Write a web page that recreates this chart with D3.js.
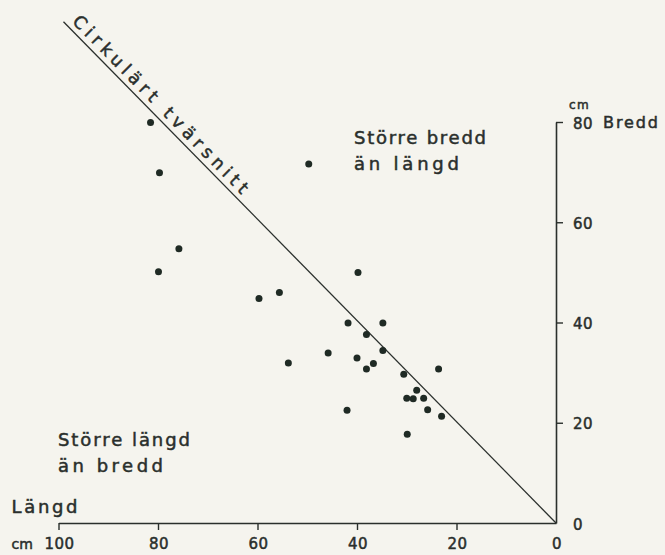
<!DOCTYPE html>
<html><head><meta charset="utf-8">
<script src="https://cdn.jsdelivr.net/npm/d3@7"></script>
<style>
html,body{margin:0;padding:0;background:#f5f4ee;}
svg{display:block;}
text{font-family:"DejaVu Sans",sans-serif;fill:#2a2f2c;stroke:#2a2f2c;stroke-width:0.5px;}
</style></head>
<body>
<script>
// Data: längd (x, cm) and bredd (y, cm)
const langd = [81.5, 79.7, 49.7, 75.8, 79.9, 39.8, 55.6, 59.7, 41.8, 34.8, 38.1, 34.8, 45.8, 53.8,
               40.0, 36.7, 38.1, 30.6, 23.6, 28.0, 30.0, 28.7, 26.6, 25.8, 23.0, 42.0, 29.9];
const bredd = [79.9, 69.9, 71.6, 54.7, 50.1, 50.0, 46.0, 44.8, 39.9, 39.9, 37.6, 34.4, 33.9, 31.9,
               32.9, 31.8, 30.7, 29.7, 30.7, 26.5, 24.9, 24.8, 24.9, 22.6, 21.3, 22.5, 17.7];
const xTicks = [100, 80, 60, 40, 20, 0];
const yTicks = [0, 20, 40, 60, 80];
const circleLine = [[0, 0], [99, 100]]; // längd = bredd
const labelDiagonal = "Cirkulärt tvärsnitt";
const labelUpper = ["Större bredd", "än längd"];
const labelLower = ["Större längd", "än bredd"];

const W = 665, H = 555, ink = "#2a2f2c";
const svg = d3.select("body").append("svg").attr("width", W).attr("height", H);

const x = d3.scaleLinear().domain([100, 0]).range([58.5, 556]);
const y = d3.scaleLinear().domain([0, 80]).range([523, 122]);

// X axis
const gx = svg.append("g").attr("transform", `translate(0,${y(0)})`)
  .call(d3.axisBottom(x).tickValues(xTicks).tickSize(7).tickSizeOuter(0).tickPadding(8));
gx.select(".domain").attr("stroke", ink).attr("stroke-width", 1.6);
gx.selectAll(".tick line").attr("stroke", ink).attr("stroke-width", 1.4)
  .attr("y2", d => d === 0 ? 0 : 7);
gx.selectAll(".tick text").attr("font-size", 15).attr("fill", ink)
  .attr("font-family", "DejaVu Sans").attr("letter-spacing", 0.5).attr("dx", 0.5);

// Y axis
const gy = svg.append("g").attr("transform", `translate(${x(0)},0)`)
  .call(d3.axisRight(y).tickValues(yTicks).tickSize(7).tickSizeOuter(0).tickPadding(10));
gy.select(".domain").attr("stroke", ink).attr("stroke-width", 1.6);
gy.selectAll(".tick line").attr("stroke", ink).attr("stroke-width", 1.4)
  .attr("x2", d => d === 0 ? 0 : 7);
gy.selectAll(".tick text").attr("font-size", 15).attr("fill", ink)
  .attr("font-family", "DejaVu Sans").attr("letter-spacing", 0.5).attr("dy", "0.4em");

// Axis titles
svg.append("text").attr("x", 11.5).attr("y", 549).attr("font-size", 14).text("cm");
svg.append("text").attr("x", 11.5).attr("y", 513).attr("font-size", 18).attr("textLength", 66).attr("lengthAdjust", "spacing").text("Längd");
svg.append("text").attr("x", 569).attr("y", 109).attr("font-size", 12).attr("letter-spacing", 1.5).text("cm");
svg.append("text").attr("x", 603).attr("y", 128).attr("font-size", 16).attr("textLength", 55).attr("lengthAdjust", "spacing").text("Bredd");

// Diagonal line
const line = d3.line().x(d => x(d[0])).y(d => y(d[1]));
svg.append("path").attr("d", line(circleLine)).attr("fill", "none")
  .attr("stroke", ink).attr("stroke-width", 1.3);

// Diagonal label
const p0 = [x(circleLine[1][0]), y(circleLine[1][1])];
const p1 = [x(circleLine[0][0]), y(circleLine[0][1])];
const ang = Math.atan2(p1[1] - p0[1], p1[0] - p0[0]);
const dir = [Math.cos(ang), Math.sin(ang)], nrm = [Math.sin(ang), -Math.cos(ang)];
const o = [p0[0] + 6 * dir[0] + 5.5 * nrm[0], p0[1] + 6 * dir[1] + 5.5 * nrm[1]];
svg.append("text")
  .attr("transform", `translate(${o[0]},${o[1]}) rotate(${ang * 180 / Math.PI})`)
  .attr("font-size", 17.5).attr("textLength", 242).attr("lengthAdjust", "spacing")
  .text(labelDiagonal);

// Region labels
const addLines = (lines, x0, ys, lens) => lines.forEach((t, i) =>
  svg.append("text").attr("x", x0).attr("y", ys[i]).attr("font-size", 18)
    .attr("textLength", lens[i]).attr("lengthAdjust", "spacing").text(t));
addLines(labelUpper, 354, [144, 170], [132, 105]);
addLines(labelLower, 58, [446, 472], [132, 105]);

// Points
svg.append("g").selectAll("circle").data(langd).join("circle")
  .attr("cx", d => x(d)).attr("cy", (d, i) => y(bredd[i])).attr("r", 3.5)
  .attr("fill", "#1f2a24");
</script>
</body></html>
